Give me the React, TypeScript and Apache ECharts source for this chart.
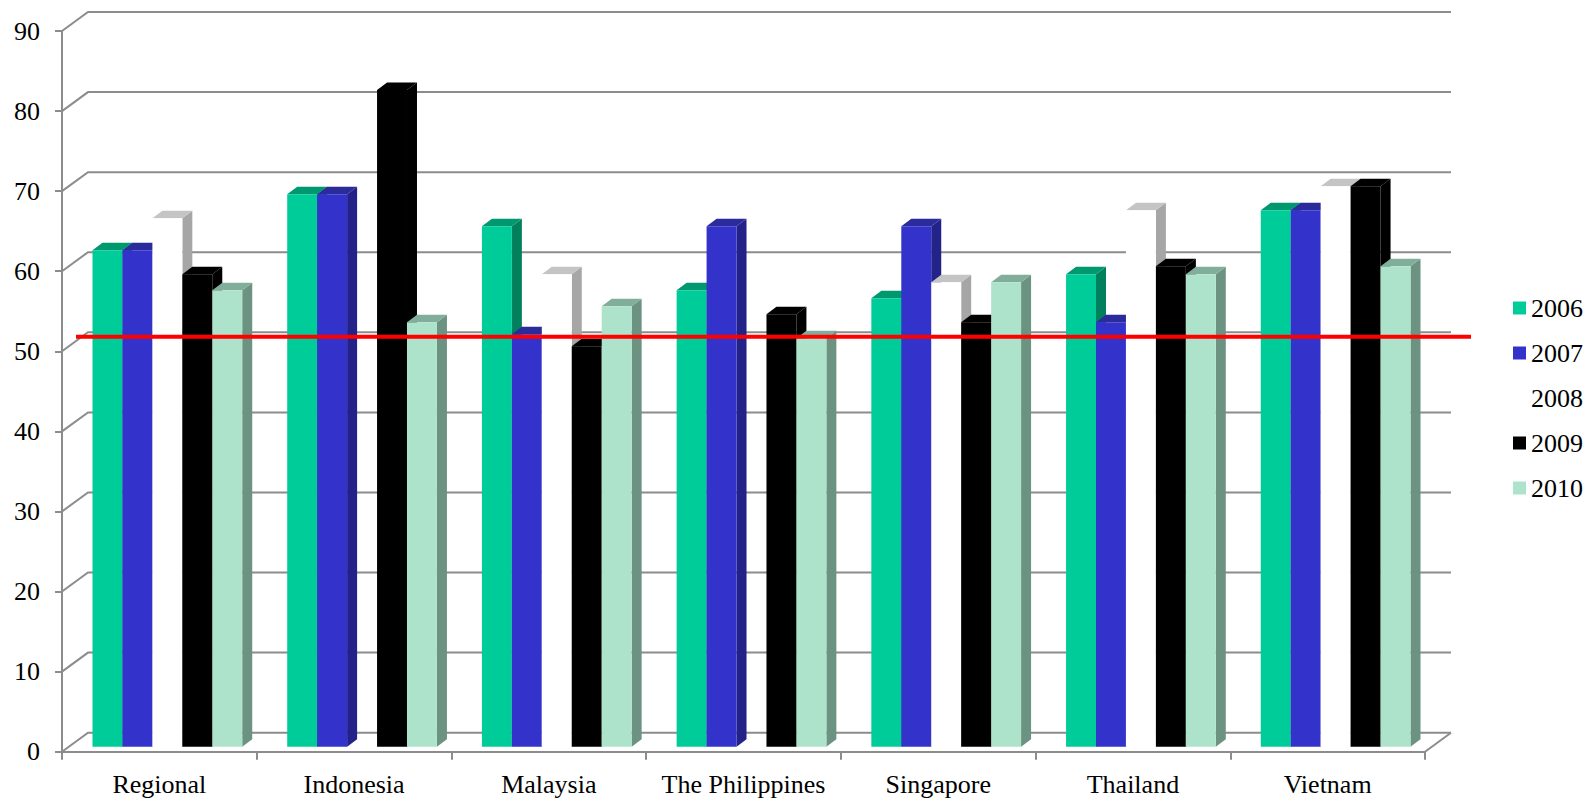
import React, { useEffect, useRef } from "react";
import * as echarts from "echarts";

const categories = ["Regional", "Indonesia", "Malaysia", "The Philippines", "Singapore", "Thailand", "Vietnam"];
const years = ["2006", "2007", "2008", "2009", "2010"];
const v2006 = [62, 69, 65, 57, 56, 59, 67];
const v2007 = [62, 69, 51.5, 65, 65, 53, 67];
const v2008 = [66, null, 59, null, 58, 67, 70];
const v2009 = [59, 82, 50, 54, 53, 60, 70];
const v2010 = [57, 53, 55, 51, 58, 59, 60];
const yTicks = [0, 10, 20, 30, 40, 50, 60, 70, 80, 90];
const refLine = 51.2;

const seriesValues = [v2006, v2007, v2008, v2009, v2010];
const faceColors = [
  { front: "#00CC99", top: "#00996F", side: "#00805C" },
  { front: "#3333CC", top: "#2B2B9C", side: "#222288" },
  { front: "#FFFFFF", top: "#C4C4C4", side: "#A6A6A6" },
  { front: "#000000", top: "#000000", side: "#000000" },
  { front: "#ADE3CB", top: "#80AE9A", side: "#6C9381" },
];

const FONT = "'Liberation Serif', 'Times New Roman', serif";
const GRID_COLOR = "#8C8C8C";
const WX = 26, WY = 19; // back wall depth offset
const D0X = 8, D0Y = 5; // bar front plane offset
const BX = 10, BY = 7.5; // bar depth

function barRender(si: number) {
  const fc = faceColors[si];
  return (params: any, api: any) => {
    const idx = api.value(0);
    const v = api.value(1);
    if (v == null || isNaN(v)) return null;
    const band = api.size([1, 0])[0];
    const c0 = api.coord([idx, 0]);
    const c1 = api.coord([idx, v]);
    const barW = band * 0.1538;
    const gap = (band - 5 * barW) / 2;
    const left = c0[0] - band / 2 + D0X + gap + si * barW;
    const right = left + barW;
    const base = c0[1] - D0Y;
    const top = c1[1] - D0Y;
    return {
      type: "group",
      children: [
        {
          type: "polygon",
          z2: si * 3,
          shape: { points: [[right, top], [right + BX, top - BY], [right + BX, base - BY], [right, base]] },
          style: { fill: fc.side },
        },
        {
          type: "polygon",
          z2: si * 3 + 1,
          shape: { points: [[left, top], [left + BX, top - BY], [right + BX, top - BY], [right, top]] },
          style: { fill: fc.top },
        },
        {
          type: "rect",
          z2: si * 3 + 2,
          shape: { x: left, y: top, width: barW, height: base - top },
          style: { fill: fc.front },
        },
      ],
    };
  };
}

export default function App() {
  const ref = useRef<HTMLDivElement>(null);
  useEffect(() => {
    if (!ref.current) return;
    const chart = echarts.init(ref.current, null, { renderer: "svg" });
    const barSeries = years.map((y, si) => ({
      type: "custom",
      name: y,
      z: 3,
      itemStyle: { color: faceColors[si].front },
      encode: { x: 0, y: 1 },
      data: seriesValues[si].map((v, i) => [i, v]),
      renderItem: barRender(si),
    }));
    chart.setOption({
      animation: false,
      textStyle: { fontFamily: FONT },
      grid: { left: 62, top: 31, width: 1363, height: 720.7 },
      legend: {
        data: years,
        orient: "vertical",
        left: 1508,
        top: 290,
        icon: "rect",
        itemWidth: 13,
        itemHeight: 13,
        itemGap: 19,
        selectedMode: false,
        textStyle: { fontSize: 26, color: "#000", fontFamily: FONT, lineHeight: 26 },
      },
      xAxis: {
        type: "category",
        data: categories,
        axisLine: { show: true, lineStyle: { color: GRID_COLOR, width: 2 } },
        axisTick: { show: true, length: 8, lineStyle: { color: GRID_COLOR, width: 2 } },
        axisLabel: { interval: 0, fontSize: 26, color: "#000", fontFamily: FONT, margin: 20 },
        splitLine: { show: false },
      },
      yAxis: {
        type: "value",
        min: 0,
        max: 90,
        interval: 10,
        axisLine: { show: true, lineStyle: { color: GRID_COLOR, width: 2 } },
        axisTick: { show: true, length: 7, lineStyle: { color: GRID_COLOR, width: 2 } },
        axisLabel: { fontSize: 26, color: "#000", fontFamily: FONT, margin: 22 },
        splitLine: { show: false },
      },
      series: [
        {
          type: "custom",
          name: "walls",
          z: 1,
          silent: true,
          encode: { x: 0, y: 1 },
          data: yTicks.map((t) => [0, t]),
          renderItem: (params: any, api: any) => {
            const cs = params.coordSys;
            const y = api.coord([0, api.value(1)])[1];
            const children: any[] = [
              {
                type: "polyline",
                shape: { points: [[cs.x, y], [cs.x + WX, y - WY], [cs.x + cs.width + WX, y - WY]] },
                style: { stroke: GRID_COLOR, lineWidth: 2, fill: null },
              },
            ];
            if (api.value(1) === 0) {
              children.push({
                type: "line",
                shape: { x1: cs.x + cs.width, y1: y, x2: cs.x + cs.width + WX, y2: y - WY },
                style: { stroke: GRID_COLOR, lineWidth: 2 },
              });
            }
            return { type: "group", children };
          },
        },
        ...barSeries,
        {
          type: "custom",
          name: "ref",
          z: 10,
          silent: true,
          encode: { x: 0, y: 1 },
          data: [[0, refLine]],
          renderItem: (params: any, api: any) => {
            const cs = params.coordSys;
            const y = api.coord([0, api.value(1)])[1] - D0Y;
            return {
              type: "line",
              shape: { x1: cs.x + 14, y1: y, x2: cs.x + cs.width + 46, y2: y },
              style: { stroke: "#FF0000", lineWidth: 4 },
            };
          },
        },
      ],
    });
    return () => chart.dispose();
  }, []);
  return (
    <div
      ref={ref}
      style={{ position: "absolute", left: 0, top: 0, width: 1596, height: 802, background: "#fff" }}
    />
  );
}
